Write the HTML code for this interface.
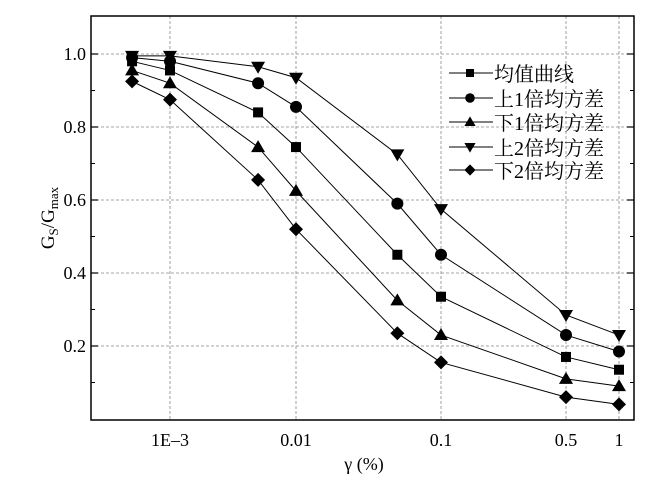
<!DOCTYPE html>
<html><head><meta charset="utf-8"><style>
body{margin:0;background:#fff;}
</style></head><body>
<svg width="654" height="480" viewBox="0 0 654 480" style="font-family:'Liberation Serif','Noto Serif CJK SC','DejaVu Serif',serif;">
<g id="grid"></g>
<g id="axes"></g>
<g id="series"></g>
<g id="legend"></g>
</svg>
<script>
const xValues=[0.0005,0.001,0.005,0.01,0.05,0.1,0.5,1];
const meanCurve=[0.98,0.955,0.84,0.745,0.45,0.335,0.17,0.135];
const plus1Std=[0.99,0.98,0.92,0.855,0.59,0.45,0.23,0.185];
const minus1Std=[0.955,0.92,0.745,0.625,0.325,0.23,0.11,0.09];
const plus2Std=[0.995,0.995,0.965,0.935,0.725,0.575,0.285,0.23];
const minus2Std=[0.925,0.875,0.655,0.52,0.235,0.155,0.06,0.04];
const xTickValues=[0.001,0.01,0.1,0.5,1];
const xTickLabels=["1E\u20133","0.01","0.1","0.5","1"];
const yTickValues=[0.2,0.4,0.6,0.8,1.0];
const yTickLabels=["0.2","0.4","0.6","0.8","1.0"];
const seriesNames=["均值曲线","上1倍均方差","下1倍均方差","上2倍均方差","下2倍均方差"];

const NS="http://www.w3.org/2000/svg";
const FONT="font-family:'Liberation Serif','Noto Serif CJK SC','DejaVu Serif',serif;";
const L=91,R=634,T=16,B=420;
const xAnchorPx=[170,296,441,566,619];
function xs(v){
  const lv=Math.log10(v),la=xTickValues.map(Math.log10);
  if(lv<=la[0]) return xAnchorPx[0]+(lv-la[0])*(xAnchorPx[1]-xAnchorPx[0])/(la[1]-la[0]);
  for(let i=0;i<la.length-1;i++){
    if(lv<=la[i+1]) return xAnchorPx[i]+(lv-la[i])*(xAnchorPx[i+1]-xAnchorPx[i])/(la[i+1]-la[i]);
  }
  return xAnchorPx[4];
}
function ys(v){return 419-v*365;}
function mk(tag,attrs,parent){const e=document.createElementNS(NS,tag);for(const k in attrs)e.setAttribute(k,attrs[k]);parent.appendChild(e);return e;}
function txt(attrs,size,parent){const t=mk('text',attrs,parent);t.setAttribute('style',FONT+'font-size:'+size+'px;fill:#000;');return t;}
const grid=document.getElementById('grid'),axes=document.getElementById('axes'),ser=document.getElementById('series'),leg=document.getElementById('legend');

xTickValues.forEach((v,i)=>{
  const x=xs(v);
  const g=mk('line',{x1:x,x2:x,y1:T,y2:B,stroke:'#888','stroke-dasharray':'3,2','stroke-width':0.8},grid);
  
  
  const t=txt({x:x,y:B+26,'text-anchor':'middle'},18,axes);
  t.textContent=xTickLabels[i];
  
  
});
yTickValues.forEach((v,i)=>{
  const y=ys(v);
  const g=mk('line',{x1:L,x2:R,y1:y,y2:y,stroke:'#888','stroke-dasharray':'3,2','stroke-width':0.8},grid);
  
  
  const t=txt({x:L-5,y:y+6,'text-anchor':'end'},18,axes);
  t.textContent=yTickLabels[i];
  
  
  [L,R-7].forEach(x0=>{
    const tk=mk('line',{x1:x0,x2:x0+7,y1:y,y2:y,stroke:'#000','stroke-width':1.2},axes);
    
    
  });
});
[0.1,0.3,0.5,0.7,0.9].forEach(v=>{
  const y=ys(v);
  [L,R-4].forEach(x0=>{
    const tk=mk('line',{x1:x0,x2:x0+4,y1:y,y2:y,stroke:'#000','stroke-width':1},axes);
    
    
  });
});
const frame=mk('rect',{x:L,y:T,width:R-L,height:B-T,fill:'none',stroke:'#000','stroke-width':1.5},axes);


const xt=txt({x:364,y:470,'text-anchor':'middle'},18,axes);
xt.textContent='γ (%)';


const yt=txt({transform:'translate(54,218) rotate(-90)','text-anchor':'middle'},19,axes);
yt.innerHTML='G<tspan style="font-size:13px" dy="4">S</tspan><tspan dy="-4">/G</tspan><tspan style="font-size:13px" dy="4">max</tspan>';



function marker(type,x,y,parent){
  let e;
  if(type==='square') e=mk('rect',{x:x-5,y:y-5,width:10,height:10},parent);
  else if(type==='circle') e=mk('circle',{cx:x,cy:y,r:6},parent);
  else if(type==='up') e=mk('polygon',{points:`${x},${y-7} ${x-7},${y+5} ${x+7},${y+5}`},parent);
  else if(type==='down') e=mk('polygon',{points:`${x},${y+7} ${x-7},${y-5} ${x+7},${y-5}`},parent);
  else e=mk('polygon',{points:`${x},${y-7} ${x+7},${y} ${x},${y+7} ${x-7},${y}`},parent);
  e.setAttribute('fill','#000');
  return e;
}
const allSeries=[meanCurve,plus1Std,minus1Std,plus2Std,minus2Std];
const types=['square','circle','up','down','diamond'];
const keys=['mean','plus-1-std','minus-1-std','plus-2-std','minus-2-std'];
allSeries.forEach((d,si)=>{
  const g=mk('g',{},ser);
  
  
  const pl=mk('polyline',{points:d.map((v,i)=>xs(xValues[i])+','+ys(v)).join(' '),fill:'none',stroke:'#000','stroke-width':1},g);
  
  
  d.forEach((v,i)=>{
    const m=marker(types[si],xs(xValues[i]),ys(v),g);
    
    
  });
});
const legY=[73,98,122,147,170];
seriesNames.forEach((n,i)=>{
  const g=mk('g',{},leg);
  
  
  mk('line',{x1:449,x2:493,y1:legY[i],y2:legY[i],stroke:'#000','stroke-width':1},g);
  const m=marker(types[i],470,legY[i],g);
  m.setAttribute('transform',`translate(470 ${legY[i]}) scale(0.8) translate(-470 ${-legY[i]})`);
  const t=txt({x:494,y:legY[i]+8},20,g);
  t.textContent=n;
});
</script>
</body></html>
